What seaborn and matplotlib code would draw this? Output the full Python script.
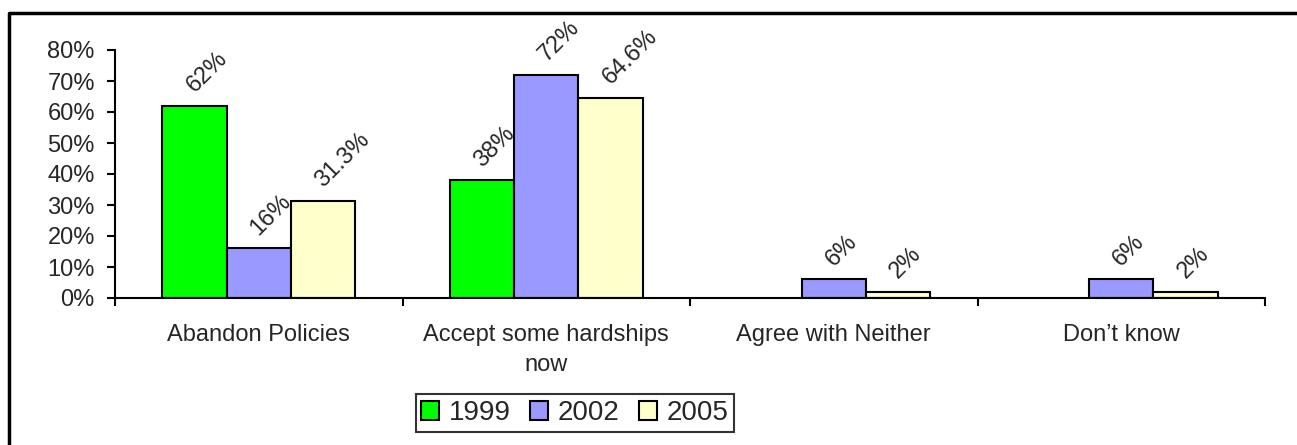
import pandas as pd
import numpy as np
import seaborn as sns
import matplotlib.pyplot as plt
from matplotlib.lines import Line2D

# Dati
categorie = ['Abandon Policies', 'Accept some hardships\nnow', 'Agree with Neither', 'Don\u2019t know']
anni = ['1999', '2002', '2005']
valori_1999 = [62, 38, None, None]
valori_2002 = [16, 72, 6, 6]
valori_2005 = [31.3, 64.6, 2, 2]
etichette_1999 = ['62%', '38%', None, None]
etichette_2002 = ['16%', '72%', '6%', '6%']
etichette_2005 = ['31.3%', '64.6%', '2%', '2%']
colori = ['#00FF00', '#9999FF', '#FFFFCC']

# Costruisco il dataframe in formato lungo (salto i valori mancanti)
righe = []
for anno, valori in zip(anni, [valori_1999, valori_2002, valori_2005]):
    for cat, v in zip(categorie, valori):
        if v is not None:
            righe.append({'categoria': cat, 'anno': anno, 'valore': v})
df = pd.DataFrame(righe)

sns.set_style('white')
plt.rcParams['font.family'] = ['Liberation Sans', 'DejaVu Sans']
fs = 17

fig = plt.figure(figsize=(12.97, 4.45), dpi=100)
ax = fig.add_axes([115 / 1297, 1 - 298 / 445, 1150 / 1297, 248 / 445])

sns.barplot(data=df, x='categoria', y='valore', hue='anno', order=categorie,
            hue_order=anni, palette=colori, width=0.67, edgecolor='black',
            linewidth=1.5, saturation=1, ax=ax, legend=True)

# Etichette ruotate sopra le barre
for cont, etichette in zip(ax.containers, [etichette_1999, etichette_2002, etichette_2005]):
    labs = [e for e in etichette if e is not None]
    for bar, lab in zip(cont, labs):
        xc = bar.get_x() + bar.get_width() / 2
        ax.annotate(lab, (xc, bar.get_height()), xytext=(0, 9), textcoords='offset points',
                    rotation=45, rotation_mode='anchor', ha='left', va='baseline',
                    fontsize=fs)

ax.set_ylim(0, 80)
ax.set_xlim(-0.5, 3.5)
ax.set_yticks(np.arange(0, 81, 10))
ax.set_yticklabels([f'{t}%' for t in range(0, 81, 10)], fontsize=fs)
ax.set_xticks(np.arange(-0.5, 3.6, 1))
ax.set_xticklabels([])
ax.set_xticks(range(4), minor=True)
ax.set_xticklabels(categorie, minor=True, fontsize=fs, linespacing=1.45)
ax.tick_params(axis='x', which='major', direction='out', length=6, width=1.5, color='black', bottom=True)
ax.tick_params(axis='x', which='minor', length=0, pad=19)
ax.tick_params(axis='y', direction='out', length=6, width=1.5, color='black', left=True, pad=8.5)
ax.set_xlabel('')
ax.set_ylabel('')
for s in ['top', 'right']:
    ax.spines[s].set_visible(False)
for s in ['left', 'bottom']:
    ax.spines[s].set_color('black')
    ax.spines[s].set_linewidth(1.5)

# Legenda in basso
ax.get_legend().remove()
leg = fig.legend(handles=[plt.Rectangle((0, 0), 1, 1, facecolor=c, edgecolor='black', linewidth=1.5) for c in colori],
                 labels=anni, loc='center', bbox_to_anchor=(575 / 1297, 1 - 413 / 445), ncol=3,
                 fontsize=20, frameon=True, fancybox=False, handlelength=0.65, handleheight=0.65,
                 handletextpad=0.35, columnspacing=0.7, borderpad=0.2, borderaxespad=0)
leg.get_frame().set_edgecolor('black')
leg.get_frame().set_linewidth(1.5)

# Cornice esterna (solo lato sinistro e superiore visibili)
fig.add_artist(Line2D([9 / 1297, 9 / 1297, 1.0], [0, 1 - 13 / 445, 1 - 13 / 445],
                      transform=fig.transFigure, color='black', linewidth=2.5))

plt.savefig('out.png', dpi=100)
